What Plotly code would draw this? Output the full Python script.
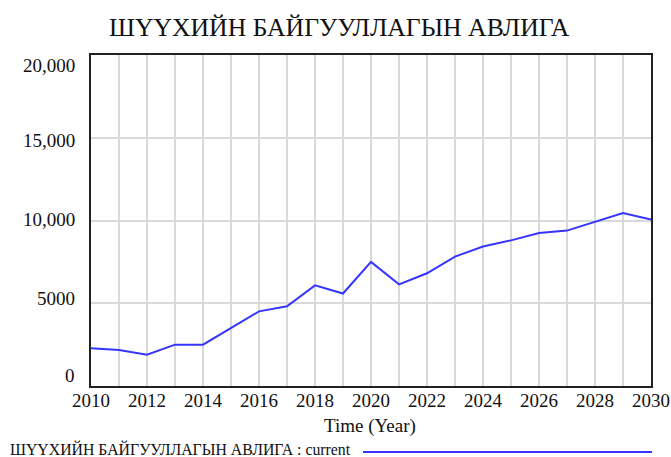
import plotly.graph_objects as go

years = list(range(2010, 2031))
values = [2280, 2180, 1890, 2500, 2500, 3500, 4510, 4820, 6080, 5590, 7500,
          6140, 6810, 7820, 8430, 8800, 9250, 9390, 9920, 10450, 10060]
y_tick_vals = [20000, 15000, 10000, 5000, 0]
y_tick_text = ["20,000", "15,000", "10,000", "5000", "0"]
y_label_shift = [-10, -3, 1, 5, 11]
title_text = "ШҮҮХИЙН БАЙГУУЛЛАГЫН АВЛИГА"
legend_text = "ШҮҮХИЙН БАЙГУУЛЛАГЫН АВЛИГА : current"
x_title = "Time (Year)"

W, H = 671, 457
L, R, T = 91, 20, 55
B = H - 386
PW, PH = W - L - R, H - T - B
FONT = "Liberation Serif"
LINE_COLOR = "#3535ff"
GRID = "#d9d9d9"


def px(x):
    return (x - L) / PW


def py(y):
    return (H - B - y) / PH


fig = go.Figure()
fig.add_trace(go.Scatter(x=years, y=values, mode="lines",
                         line=dict(color=LINE_COLOR, width=2),
                         showlegend=False, hoverinfo="skip"))

annotations = []
for v, t, s in zip(y_tick_vals, y_tick_text, y_label_shift):
    annotations.append(dict(x=0, xref="paper", y=v, yref="y", text=t,
                            showarrow=False, xanchor="right", yanchor="middle",
                            xshift=-14, yshift=s,
                            font=dict(family=FONT, size=19, color="#111")))
annotations.append(dict(x=px(339), y=py(27), xref="paper", yref="paper",
                        text=title_text, showarrow=False, xanchor="center",
                        yanchor="middle",
                        font=dict(family=FONT, size=25.7, color="#111")))
annotations.append(dict(x=px(370), y=py(426), xref="paper", yref="paper",
                        text=x_title, showarrow=False, xanchor="center",
                        yanchor="middle",
                        font=dict(family=FONT, size=19, color="#111")))
annotations.append(dict(x=px(8), y=py(449), xref="paper", yref="paper",
                        text=legend_text, showarrow=False, xanchor="left",
                        yanchor="middle",
                        font=dict(family=FONT, size=15.8, color="#111")))

shapes = [dict(type="line", xref="paper", yref="paper",
               x0=px(363), x1=px(652), y0=py(452), y1=py(452),
               line=dict(color=LINE_COLOR, width=2))]

fig.update_layout(
    width=W, height=H,
    margin=dict(l=L, r=R, t=T, b=B, autoexpand=False),
    paper_bgcolor="white", plot_bgcolor="white",
    annotations=annotations, shapes=shapes,
    xaxis=dict(range=[2010, 2030], tickmode="linear", tick0=2010, dtick=2,
               automargin=False, ticklabelstandoff=-4,
               showgrid=True, gridcolor=GRID, gridwidth=1.5,
               minor=dict(dtick=1, tick0=2010, showgrid=True,
                          gridcolor=GRID, gridwidth=1.5),
               showline=True, linecolor="#222", linewidth=2, mirror=True,
               ticks="", tickfont=dict(family=FONT, size=19, color="#111"),
               zeroline=False),
    yaxis=dict(range=[0, 20000], tickvals=y_tick_vals, showticklabels=False,
               automargin=False,
               showgrid=True, gridcolor=GRID, gridwidth=1.5,
               showline=True, linecolor="#222", linewidth=2, mirror=True,
               ticks="", zeroline=False),
)

fig.write_html(
    "out.html",
    config={"displayModeBar": False},
    post_script="document.body.style.margin='0';"
                "document.body.style.overflow='hidden';",
)
